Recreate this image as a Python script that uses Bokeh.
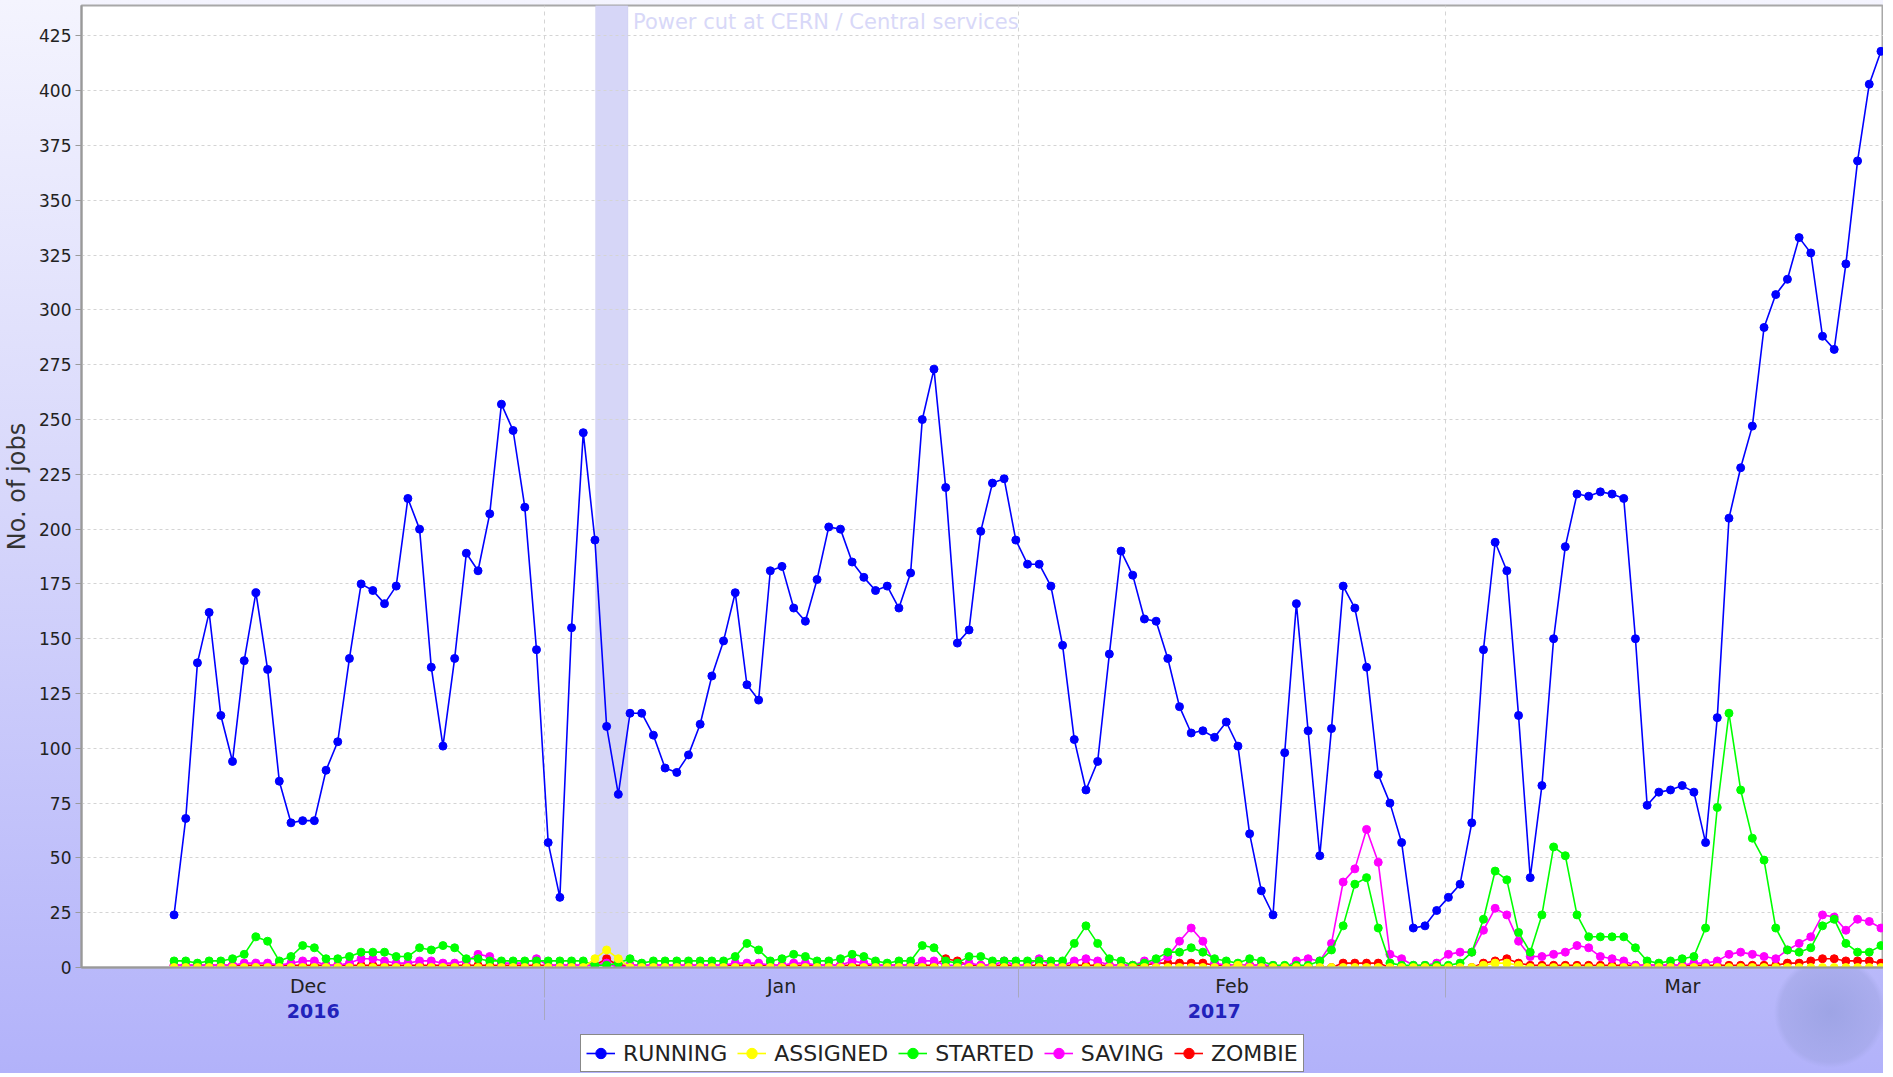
import numpy as np
import pandas as pd
from bokeh.plotting import figure
from bokeh.layouts import column
from bokeh.models import (Range1d, FixedTicker, LinearAxis, CustomJSTickFormatter,
                          BoxAnnotation, Label, Legend, LegendItem, ColumnDataSource)
from bokeh.embed import file_html
from bokeh.resources import INLINE

# ---------------- data ----------------
first_time = "2016-12-07 17:00"
last_time = "2017-03-29 12:00"
view_start = "2016-12-01 15:30"
view_end = "2017-03-29 16:00"
origin = "2016-12-01"

month_starts = ["2016-12-01", "2017-01-01", "2017-02-01", "2017-03-01", "2017-04-01"]
month_names = ["Dec", "Jan", "Feb", "Mar"]
year_names = ["2016", "2017"]
year_boundary = "2017-01-01"

power_cut_start = "2017-01-04 07:30"
power_cut_end = "2017-01-06 10:30"
power_cut_text = "Power cut at CERN / Central services"

y_ticks = [0, 25, 50, 75, 100, 125, 150, 175, 200, 225, 250, 275, 300, 325, 350, 375, 400, 425]

running = [24, 68, 139, 162, 115, 94, 140, 171, 136, 85,
           66, 67, 67, 90, 103, 141, 175, 172, 166, 174,
           214, 200, 137, 101, 141, 189, 181, 207, 257, 245,
           210, 145, 57, 32, 155, 244, 195, 110, 79, 116,
           116, 106, 91, 89, 97, 111, 133, 149, 171, 129,
           122, 181, 183, 164, 158, 177, 201, 200, 185, 178,
           172, 174, 164, 180, 250, 273, 219, 148, 154, 199,
           221, 223, 195, 184, 184, 174, 147, 104, 81, 94,
           143, 190, 179, 159, 158, 141, 119, 107, 108, 105,
           112, 101, 61, 35, 24, 98, 166, 108, 51, 109,
           174, 164, 137, 88, 75, 57, 18, 19, 26, 32,
           38, 66, 145, 194, 181, 115, 41, 83, 150, 192,
           216, 215, 217, 216, 214, 150, 74, 80, 81, 83,
           80, 57, 114, 205, 228, 247, 292, 307, 314, 333,
           326, 288, 282, 321, 368, 403, 418]

assigned = [0, 0, 0, 0, 0, 0, 0, 0, 0, 0,
            0, 0, 0, 0, 0, 0, 0, 0, 0, 0,
            0, 0, 0, 0, 0, 0, 0, 0, 0, 0,
            0, 0, 0, 0, 0, 0, 4, 8, 4, 0,
            0, 0, 0, 0, 0, 0, 0, 0, 0, 0,
            0, 0, 0, 0, 0, 0, 0, 0, 0, 0,
            0, 0, 0, 0, 0, 0, 0, 0, 0, 0,
            0, 0, 0, 0, 0, 0, 0, 0, 0, 0,
            0, 0, 0, 0, 0, 0, 0, 0, 0, 0,
            0, 1, 0, 0, 0, 0, 0, 0, 0, 0,
            0, 0, 0, 0, 0, 0, 0, 0, 0, 0,
            0, 0, 1, 2, 2, 1, 0, 0, 0, 0,
            0, 0, 0, 0, 0, 0, 0, 0, 0, 0,
            0, 0, 0, 0, 0, 0, 0, 0, 0, 0,
            0, 0, 0, 0, 0, 0, 0]

started = [3, 3, 2, 3, 3, 4, 6, 14, 12, 3,
           5, 10, 9, 4, 4, 5, 7, 7, 7, 5,
           5, 9, 8, 10, 9, 4, 4, 3, 3, 3,
           3, 3, 3, 3, 3, 3, 1, 1, 2, 4,
           2, 3, 3, 3, 3, 3, 3, 3, 5, 11,
           8, 3, 4, 6, 5, 3, 3, 4, 6, 5,
           3, 2, 3, 3, 10, 9, 3, 2, 5, 5,
           3, 3, 3, 3, 3, 3, 3, 11, 19, 11,
           4, 3, 1, 2, 4, 7, 7, 9, 7, 4,
           3, 2, 4, 3, 1, 1, 1, 1, 3, 8,
           19, 38, 41, 18, 2, 1, 1, 1, 1, 1,
           2, 7, 22, 44, 40, 16, 7, 24, 55, 51,
           24, 14, 14, 14, 14, 9, 3, 2, 3, 4,
           5, 18, 73, 116, 81, 59, 49, 18, 8, 7,
           9, 19, 22, 11, 7, 7, 10]

saving = [1, 1, 1, 1, 1, 1, 2, 2, 2, 1,
          2, 3, 3, 1, 1, 2, 4, 4, 3, 2,
          2, 3, 3, 2, 2, 3, 6, 5, 2, 2,
          2, 4, 1, 1, 1, 1, 1, 2, 0, 1,
          1, 1, 1, 1, 1, 1, 1, 1, 2, 2,
          2, 1, 1, 2, 2, 1, 1, 1, 3, 2,
          1, 1, 1, 1, 3, 3, 1, 1, 2, 1,
          1, 3, 1, 1, 4, 1, 1, 3, 4, 3,
          1, 1, 1, 3, 2, 5, 12, 18, 12, 2,
          1, 1, 1, 1, 1, 0, 3, 4, 3, 11,
          39, 45, 63, 48, 6, 4, 1, 1, 2, 6,
          7, 7, 17, 27, 24, 12, 5, 5, 6, 7,
          10, 9, 5, 4, 3, 1, 1, 1, 1, 1,
          2, 2, 3, 6, 7, 6, 5, 4, 8, 11,
          14, 24, 23, 17, 22, 21, 18]

zombie = [1, 1, 1, 1, 1, 1, 1, 1, 1, 1,
          1, 1, 1, 1, 1, 1, 1, 1, 1, 1,
          1, 1, 1, 1, 1, 1, 1, 1, 1, 1,
          1, 1, 1, 1, 1, 1, 1, 4, 1, 1,
          1, 1, 1, 1, 1, 1, 1, 1, 1, 1,
          1, 1, 1, 1, 1, 1, 1, 1, 1, 1,
          1, 1, 1, 1, 1, 1, 4, 3, 1, 1,
          1, 1, 1, 1, 1, 1, 1, 1, 1, 1,
          1, 1, 1, 1, 2, 2, 2, 2, 2, 1,
          1, 1, 1, 1, 0, 0, 0, 0, 0, 0,
          2, 2, 2, 2, 0, 0, 0, 0, 0, 0,
          0, 0, 2, 3, 4, 2, 1, 1, 1, 1,
          1, 1, 1, 1, 1, 1, 1, 1, 1, 1,
          1, 1, 1, 1, 1, 1, 1, 1, 2, 2,
          3, 4, 4, 3, 3, 3, 2]

series_names = ["RUNNING", "ASSIGNED", "STARTED", "SAVING", "ZOMBIE"]
series_values = [running, assigned, started, saving, zombie]
series_colors = ["#0000ff", "#ffff00", "#00ff00", "#ff00ff", "#ff0000"]

# ---------------- helpers ----------------
t0 = pd.Timestamp(origin)


def to_days(t):
    return np.asarray((pd.to_datetime(t) - t0) / pd.Timedelta(days=1), dtype=float)


x_days = to_days(pd.date_range(first_time, last_time, periods=len(running)))
x_lo = float(to_days(view_start))
x_hi = float(to_days(view_end))
month_bounds = [float(v) for v in to_days(month_starts)]
month_centers = [(a + b) / 2 for a, b in zip(month_bounds[:-1], month_bounds[1:])]
inner_bounds = [b for b in month_bounds if x_lo < b < x_hi]
yb = float(to_days(year_boundary))
year_centers = [(x_lo + yb) / 2, (yb + x_hi) / 2]
y_top = max(running) * 1.05

FONT = "DejaVu Sans"
LINE_W = 1.6
MARK = 8

p = figure(frame_width=1802, frame_height=962, output_backend="svg", toolbar_location=None,
           x_range=Range1d(x_lo, x_hi), y_range=Range1d(0, y_top),
           min_border_left=75, min_border_right=0, min_border_top=5, min_border_bottom=0)
p.border_fill_color = None
p.background_fill_color = "white"
p.outline_line_color = "#a8a8a8"
p.outline_line_width = 2

# grids
p.ygrid.ticker = FixedTicker(ticks=y_ticks)
p.ygrid.grid_line_color = "#d4d4d4"
p.ygrid.grid_line_dash = "3 3"
p.xgrid.ticker = FixedTicker(ticks=inner_bounds)
p.xgrid.grid_line_color = "#d4d4d4"
p.xgrid.grid_line_dash = "4 4"

# y axis
ya = p.yaxis[0]
ya.ticker = FixedTicker(ticks=y_ticks)
ya.axis_label = "No. of jobs"
ya.axis_label_text_font = FONT
ya.axis_label_text_font_size = "24px"
ya.axis_label_text_font_style = "normal"
ya.axis_label_text_color = "#333333"
ya.axis_label_standoff = 5
ya.major_label_text_font = FONT
ya.major_label_text_font_size = "17px"
ya.major_label_text_color = "#222222"
ya.major_label_standoff = 4
ya.major_tick_out = 6
ya.major_tick_in = 0
ya.minor_tick_line_color = None
ya.axis_line_color = "#999999"
ya.axis_line_width = 2
ya.major_tick_line_color = "#999999"

# month axis
fmt_code = """
for (let i = 0; i < c.length; i++) { if (Math.abs(tick - c[i]) < 1e-6) return n[i]; }
return "";"""
xa = p.xaxis[0]
xa.ticker = FixedTicker(ticks=month_centers, minor_ticks=inner_bounds)
xa.formatter = CustomJSTickFormatter(args=dict(c=month_centers, n=month_names), code=fmt_code)
xa.major_tick_line_color = None
xa.major_tick_out = 0
xa.major_tick_in = 0
xa.minor_tick_out = 30
xa.minor_tick_in = 0
xa.minor_tick_line_color = "#a8a8c0"
xa.axis_line_color = "#999999"
xa.axis_line_width = 2
xa.major_label_text_font = FONT
xa.major_label_text_font_size = "19px"
xa.major_label_text_color = "#222222"
xa.major_label_standoff = -23

# year axis
ya2 = LinearAxis(ticker=FixedTicker(ticks=year_centers, minor_ticks=[yb]))
ya2.formatter = CustomJSTickFormatter(args=dict(c=year_centers, n=year_names), code=fmt_code)
ya2.axis_line_color = None
ya2.major_tick_line_color = None
ya2.major_tick_out = 0
ya2.major_tick_in = 0
ya2.minor_tick_out = 27
ya2.minor_tick_in = 0
ya2.minor_tick_line_color = "#a8a8c0"
ya2.major_label_text_font = FONT
ya2.major_label_text_font_size = "19px"
ya2.major_label_text_font_style = "bold"
ya2.major_label_text_color = "#2222bb"
ya2.major_label_standoff = -23
p.add_layout(ya2, "below")

# power cut annotation
band = BoxAnnotation(left=float(to_days(power_cut_start)), right=float(to_days(power_cut_end)),
                     fill_color="#d6d6f7", fill_alpha=1.0, line_color="#c8c8ec", line_width=1,
                     level="image")
p.add_layout(band)
p.add_layout(Label(x=float(to_days(power_cut_end)), y=y_top, x_offset=5, y_offset=-4,
                   text=power_cut_text, text_font=FONT, text_font_size="21px",
                   text_color="#d8d8f8", text_baseline="top", text_align="left"))

# series (drawn in reverse so RUNNING is on top)
sources = {}
for name, vals, col in reversed(list(zip(series_names, series_values, series_colors))):
    src = ColumnDataSource(dict(x=x_days, y=vals))
    sources[name] = src
    p.line("x", "y", source=src, line_color=col, line_width=LINE_W)
    p.scatter("x", "y", source=src, size=MARK, fill_color=col, line_color=col)

# legend strip below the chart (its own small canvas so it is not clipped);
# its ranges lie outside the data so only the legend shows
lf = figure(width=1877, height=53, output_backend="svg", toolbar_location=None,
            x_range=Range1d(x_lo - 20, x_lo - 19), y_range=Range1d(-20, -19), min_border=0,
            x_axis_location=None, y_axis_location=None)
lf.grid.visible = False
lf.outline_line_color = None
lf.background_fill_color = None
lf.border_fill_color = None
legend_items = []
for name, col in zip(series_names, series_colors):
    lr = lf.line("x", "y", source=sources[name], line_color=col, line_width=LINE_W)
    sr = lf.scatter("x", "y", source=sources[name], size=MARK, fill_color=col, line_color=col)
    legend_items.append(LegendItem(label=name, renderers=[lr, sr]))

legend = Legend(items=legend_items, orientation="horizontal", location=(499, 1))
legend.label_text_font = FONT
legend.label_text_font_size = "22px"
legend.label_text_color = "#222222"
legend.border_line_color = "#111111"
legend.border_line_width = 1.5
legend.background_fill_color = "white"
legend.background_fill_alpha = 1.0
legend.glyph_width = 29
legend.glyph_height = 26
legend.label_standoff = 8
legend.spacing = 10
legend.padding = 5
legend.margin = 0
lf.add_layout(legend, "center")

page = column(p, lf, spacing=0)
page.styles = {"background": "radial-gradient(circle 56px at 1830px 1012px, rgba(150,158,222,0.75) 0px, "
                             "rgba(160,165,228,0.55) 50px, rgba(0,0,0,0) 56px), "
                             "linear-gradient(to bottom, #f4f4fe 0%, #d8d8fb 45%, #b2b2fa 100%)"}

open("out.html", "w").write(file_html(page, INLINE))
